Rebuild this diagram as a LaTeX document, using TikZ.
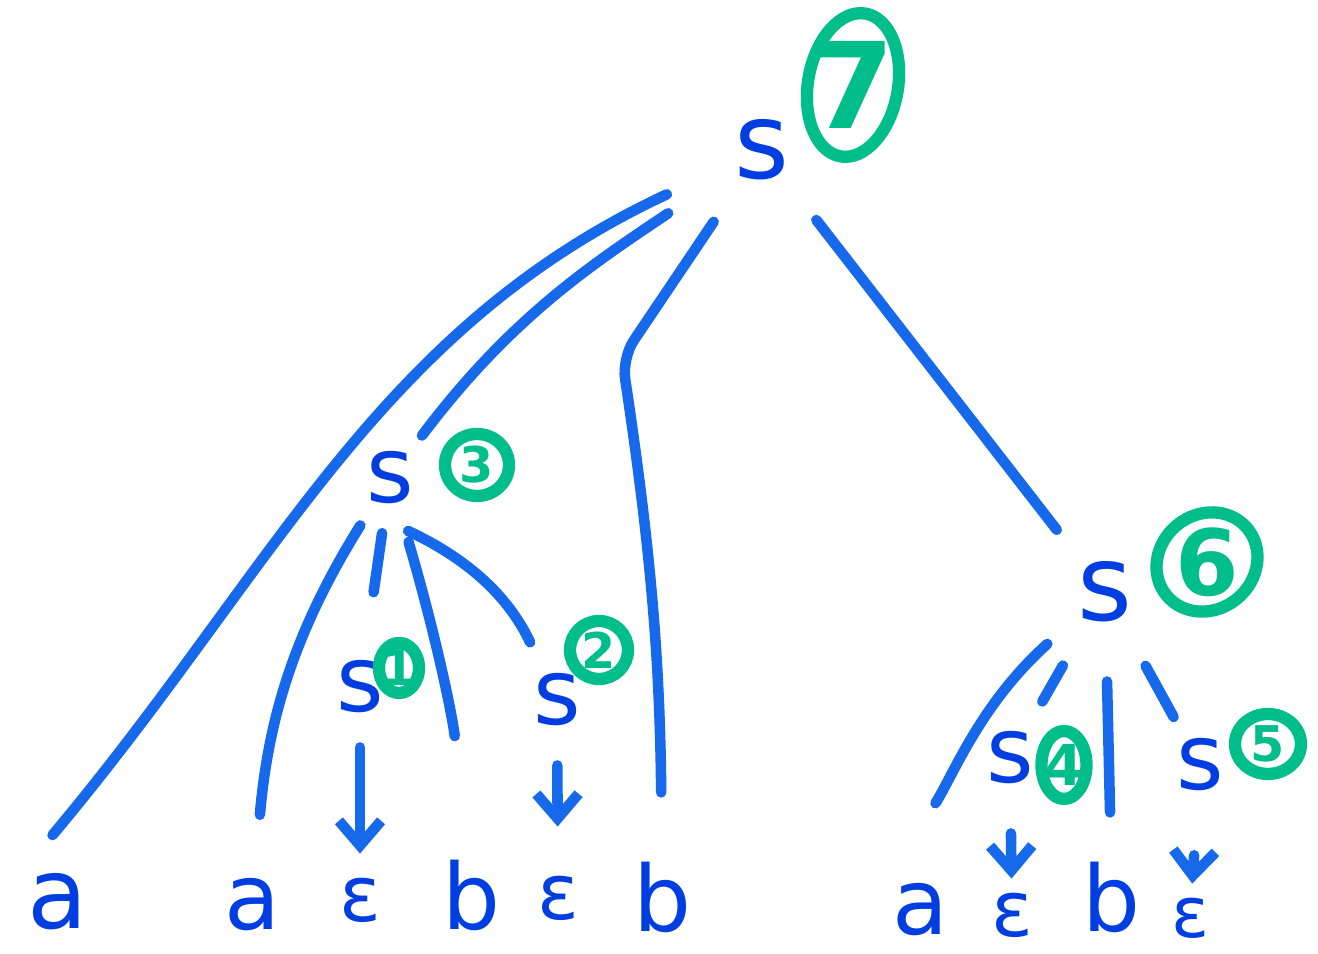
\documentclass[tikz,border=0pt]{standalone}
\usepackage{fontspec}
\setmainfont{DejaVu Sans}
\usetikzlibrary{shapes.geometric, arrows.meta, positioning}
\definecolor{marker}{RGB}{22,105,234}
\definecolor{ink}{RGB}{0,62,225}
\definecolor{mint}{RGB}{0,190,140}
\tikzset{
	sym/.style={text=ink, font=\fontsize{26}{26}\selectfont, inner sep=1pt},
	num/.style={ellipse, draw=mint, line width=3.5pt, inner sep=0pt},
	digit/.style={text=mint, font=\fontsize{#1}{#1}\selectfont\bfseries},
	branch/.style={draw=marker, line width=3pt, line cap=round},
}

\begin{document}
\begin{tikzpicture}[>={Straight Barb[length=7pt,width=12pt]}]
		\useasboundingbox (0,0) rectangle (13.18,-9.54);
		% nonterminals
		\draw (7.62,-1.50) node[sym, font=\fontsize{30}{30}\selectfont] (s7) {s}
		(3.90,-4.78) node[sym] (s3) {s}
		(3.60,-6.87) node[sym] (s1) {s}
		(5.57,-7.00) node[sym] (s2) {s}
		(11.05,-5.92) node[sym, font=\fontsize{30}{30}\selectfont] (s6) {s}
		(10.10,-7.58) node[sym] (s4) {s}
		(12.00,-7.65) node[sym] (s5) {s};
		
		% reduction order
		\draw (8.53,-0.85) node[num, minimum width=0.9cm, minimum height=1.45cm, rotate=-10, label={[digit=34]center:7}] (c7) {}
		(4.77,-4.65) node[num, minimum width=0.64cm, minimum height=0.62cm, label={[digit=14]center:3}] (c3) {}
		(3.99,-6.68) node[num, minimum width=0.40cm, minimum height=0.50cm, label={[digit=14]center:1}] (c1) {}
		(5.99,-6.50) node[num, minimum width=0.58cm, minimum height=0.58cm, label={[digit=14]center:2}] (c2) {}
		(12.07,-5.62) node[num, minimum width=1.05cm, minimum height=0.95cm, rotate=40, label={[digit=26]center:6}] (c6) {}
		(10.64,-7.65) node[num, minimum width=0.45cm, minimum height=0.68cm, label={[digit=16]center:4}] (c4) {}
		(12.68,-7.44) node[num, minimum width=0.66cm, minimum height=0.60cm, label={[digit=14]center:5}] (c5) {};
		
		% terminals
		\draw (0.58,-9.02) node[sym, font=\fontsize{28}{28}\selectfont] (a1) {a}
		(2.52,-9.05) node[sym] (a2) {a}
		(3.60,-9.00) node[sym, font=\fontsize{22}{22}\selectfont] (e1) {ε}
		(4.72,-8.95) node[sym] (b1) {b}
		(5.58,-8.98) node[sym, font=\fontsize{22}{22}\selectfont] (e2) {ε}
		(6.62,-8.97) node[sym] (b2) {b}
		(9.20,-9.10) node[sym] (a3) {a}
		(10.12,-9.15) node[sym, font=\fontsize{22}{22}\selectfont] (e3) {ε}
		(11.12,-8.97) node[sym] (b3) {b}
		(11.90,-9.18) node[sym, font=\fontsize{20}{20}\selectfont] (e4) {ε};
		
		\coordinate (kink) at (6.22,-3.58);
		
		\draw[branch, shorten <=0.7cm, shorten >=0.45cm] (s7) to[out=205, in=50] (a1.north west);
		\draw[branch, shorten <=0.75cm, shorten >=0.15cm] (s7) to[out=214, in=53] (s3);
		\draw[branch, rounded corners=6pt, shorten <=0.45cm, shorten >=0.65cm] (s7) -- (kink) to[bend left=4] (b2);
		\draw[branch, shorten <=0.45cm, shorten >=0.35cm] (s7) -- (s6);
		\draw[branch, shorten <=0.2cm, shorten >=0.6cm] (s3) to[out=238, in=85] (a2);
		\draw[branch, shorten <=0.25cm, shorten >=0.65cm] (s3) -- (s1);
		\draw[branch, shorten <=0.35cm, shorten >=1.2cm] (s3) to[bend left=5] (b1);
		\draw[branch, shorten <=0.2cm, shorten >=0.3cm] ([yshift=-4pt]s3.south) to[out=-25, in=115] (s2);
		\draw[branch, shorten <=0.35cm, shorten >=0.9cm] (s6) to[out=222, in=58] (a3.north west);
		\draw[branch, shorten <=0.45cm, shorten >=0.3cm] (s6) -- (s4);
		\draw[branch, shorten <=0.55cm, shorten >=0.45cm] (s6) -- (b3);
		\draw[branch, shorten <=0.45cm, shorten >=0.2cm] (s6) -- (s5);
		\draw[branch, ->, shorten <=0.3cm, shorten >=0.2cm] (s1) -- (e1);
		\draw[branch, ->, shorten <=0.35cm, shorten >=0.45cm] (s2) -- (e2);
		\draw[branch, ->, shorten <=0.45cm, shorten >=0.1cm] (s4) -- (e3);
		\draw[branch, ->, shorten <=0.6cm, shorten >=0.1cm] (s5) -- (e4);
	\end{tikzpicture}
\end{document}
